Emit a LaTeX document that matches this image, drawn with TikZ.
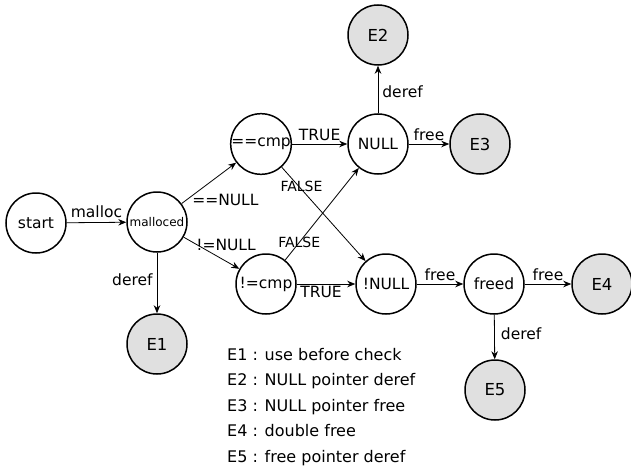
\documentclass[tikz,border=0pt]{standalone}
\usepackage{fontspec}
\setmainfont{DejaVu Sans}
\usetikzlibrary{arrows.meta}
\tikzset{
  st/.style={circle,draw,line width=1.5pt,minimum size=60pt,inner sep=0pt,font=\fontsize{15.5}{17}\selectfont},
  err/.style={st,fill=black!12,font=\fontsize{16.5}{18}\selectfont},
  tr/.style={-{Stealth[length=8pt,width=6.5pt]},line width=0.8pt},
  lab/.style={font=\fontsize{15.5}{17}\selectfont,inner sep=1pt},
  slab/.style={font=\fontsize{14}{16}\selectfont,inner sep=0pt},
  leg/.style={font=\fontsize{16}{18}\selectfont,inner sep=0pt,anchor=base west},
}
\begin{document}
\begin{tikzpicture}[x=1pt,y=-1pt]
\useasboundingbox (0,0) rectangle (631,468);
\node[st] (start) at (36,223) {start};
\node[st] (malloced) at (157,222) {\fontsize{12}{13}\selectfont malloced};
\node[st] (eqcmp) at (261,144) {==cmp};
\node[st] (null) at (378,144) {NULL};
\node[err] (E2) at (378,35) {E2};
\node[err] (E3) at (480,144) {E3};
\node[st] (necmp) at (266,284) {!=cmp};
\node[st] (notnull) at (386,284) {!NULL};
\node[st] (freed) at (494,284) {freed};
\node[err] (E4) at (602,284) {E4};
\node[err] (E5) at (495,390) {E5};
\node[err] (E1) at (157,344) {E1};

\draw[tr] (start) -- node[lab,above=3pt] {malloc} (malloced);
\draw[tr] (malloced) -- node[lab,pos=0.5,xshift=16.5pt,yshift=-17pt] {==NULL} (eqcmp);
\draw[tr] (malloced) -- node[lab,pos=0.5,xshift=14.5pt,yshift=8pt] {!=NULL} (necmp);
\draw[tr] (malloced) -- node[lab,left=3pt,yshift=3pt] {deref} (E1);
\draw[tr] (eqcmp) -- node[lab,above=2pt] {TRUE} (null);
\draw[tr] (eqcmp) -- node[slab,pos=0.2,xshift=3pt] {FALSE} (notnull);
\draw[tr] (necmp) -- node[slab,pos=0.19] {FALSE} (null);
\draw[tr] (necmp) -- node[lab,below=1pt,xshift=-5pt] {TRUE} (notnull);
\draw[tr] (null) -- node[lab,right=3pt,yshift=-2pt] {deref} (E2);
\draw[tr] (null) -- node[lab,above=2pt] {free} (E3);
\draw[tr] (notnull) -- node[lab,above=2pt] {free} (freed);
\draw[tr] (freed) -- node[lab,above=2pt] {free} (E4);
\draw[tr] (freed) -- node[lab,right=5pt,yshift=3pt] {deref} (E5);

\node[leg] (l1) at (227,360) {E1 : use before check};
\node[leg] (l2) at (227,385.5) {E2 : NULL pointer deref};
\node[leg] (l3) at (227,411) {E3 : NULL pointer free};
\node[leg] (l4) at (227,436.5) {E4 : double free};
\node[leg] (l5) at (227,462) {E5 : free pointer deref};
\end{tikzpicture}
\end{document}
